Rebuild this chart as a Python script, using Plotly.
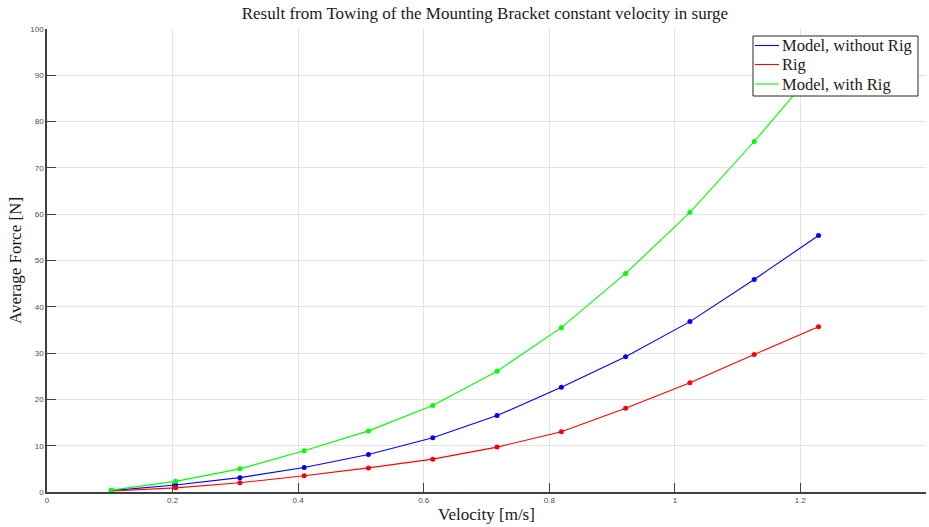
import plotly.graph_objects as go

# Towing velocities [m/s]
velocity = [0.1024, 0.2048, 0.3072, 0.4096, 0.5120, 0.6144,
            0.7168, 0.8192, 0.9216, 1.0240, 1.1264, 1.2288]

# Average measured forces [N]
force_model_without_rig = [0.3, 1.5, 3.1, 5.3, 8.1, 11.7, 16.5, 22.6, 29.2, 36.8, 45.9, 55.4]
force_rig = [0.2, 0.9, 2.0, 3.5, 5.2, 7.1, 9.7, 13.0, 18.1, 23.6, 29.7, 35.7]
force_model_with_rig = [0.4, 2.3, 5.0, 8.9, 13.2, 18.7, 26.1, 35.5, 47.2, 60.4, 75.7, 92.0]

series_names = ["Model, without Rig", "Rig", "Model, with Rig"]
series_values = [force_model_without_rig, force_rig, force_model_with_rig]
series_colors = ["#0000ff", "#ff0000", "#00ff00"]

x_ticks = [0, 0.2, 0.4, 0.6, 0.8, 1.0, 1.2, 1.4]
x_tick_text = ["0", "0.2", "0.4", "0.6", "0.8", "1", "1.2", "1.4"]
y_ticks = [0, 10, 20, 30, 40, 50, 60, 70, 80, 90, 100]

W, H = 929, 527
M = dict(l=47, r=3, t=29, b=35)
PLOT_W = W - M["l"] - M["r"]
PLOT_H = H - M["t"] - M["b"]


def px_to_paper_x(px):
    return (px - M["l"]) / PLOT_W


def px_to_paper_y(py):
    return (H - M["b"] - py) / PLOT_H


fig = go.Figure()
for name, values, color in zip(series_names, series_values, series_colors):
    fig.add_trace(go.Scatter(
        x=velocity, y=values, name=name, mode="lines+markers",
        line=dict(color=color, width=1.1),
        marker=dict(color=color, size=5),
        showlegend=False,
    ))

serif = "Liberation Serif, DejaVu Serif, serif"
text_font = dict(family=serif, size=17, color="#1a1a1a")
legend_font = dict(family=serif, size=16.5, color="#1a1a1a")

# Boxed legend in the upper right corner, plain line samples
box_x0, box_x1 = px_to_paper_x(753), px_to_paper_x(918)
box_y0, box_y1 = px_to_paper_y(96), px_to_paper_y(36)
fig.add_shape(type="rect", xref="paper", yref="paper",
              x0=box_x0, x1=box_x1, y0=box_y0, y1=box_y1,
              fillcolor="white", line=dict(color="#262626", width=1), layer="above")
row_px = [45.5, 64.5, 84.0]
for name, color, rp in zip(series_names, series_colors, row_px):
    yr = px_to_paper_y(rp)
    fig.add_shape(type="line", xref="paper", yref="paper",
                  x0=px_to_paper_x(755), x1=px_to_paper_x(779), y0=yr, y1=yr,
                  line=dict(color=color, width=1.1), layer="above")
    fig.add_annotation(xref="paper", yref="paper", x=px_to_paper_x(780), y=yr,
                       text=name, showarrow=False, xanchor="left", yanchor="middle",
                       font=legend_font)

axis_common = dict(
    showgrid=True, gridcolor="#e3e3e3", gridwidth=1,
    zeroline=False, showline=True, linecolor="#404040", linewidth=1.5,
    ticks="inside", ticklen=9, tickwidth=1.2, tickcolor="#404040",
    tickfont=dict(family="Liberation Sans, Arial, sans-serif", size=8, color="#4d4d4d"),
    mirror=False,
)

fig.update_layout(
    width=W, height=H,
    margin=M,
    paper_bgcolor="white", plot_bgcolor="white",
    title=dict(
        text="Result from Towing of the Mounting Bracket constant velocity in surge",
        x=0.522, xanchor="center", y=0.975, yanchor="middle",
        font=text_font,
    ),
    xaxis=dict(
        range=[0, 1.4], tickvals=x_ticks, ticktext=x_tick_text,
        title=dict(text="Velocity [m/s]", font=text_font, standoff=4),
        **axis_common,
    ),
    yaxis=dict(
        range=[0, 100], tickvals=y_ticks,
        title=dict(text="Average Force [N]", font=text_font, standoff=4),
        **axis_common,
    ),
    showlegend=False,
)

fig.write_html("out.html")
